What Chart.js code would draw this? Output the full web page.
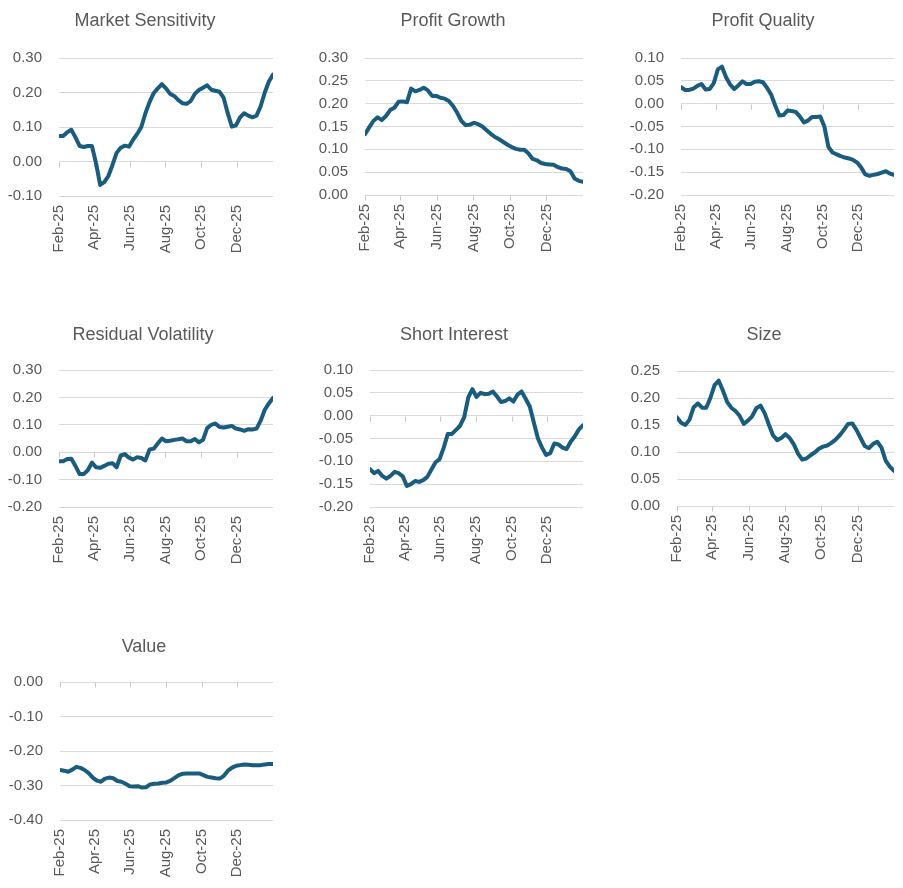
<!DOCTYPE html>
<html>
<head>
<meta charset="utf-8">
<script src="https://cdn.jsdelivr.net/npm/chart.js@4.4.1/dist/chart.umd.min.js"></script>
<style>
  html, body { margin: 0; padding: 0; background: #fff; width: 903px; height: 888px; overflow: hidden; }
  .cell { position: absolute; }
  .cell canvas { display: block; }
</style>
</head>
<body>
<div id="wrap"></div>
<script>
// x = days since 1 Feb 2025, weekly samples
var days = [0, 7, 14, 21, 28, 35, 42, 49, 56, 63, 70, 77, 84, 91, 98, 105, 112, 119, 126, 133,
  140, 147, 154, 161, 168, 175, 182, 189, 196, 203, 210, 217, 224, 231, 238, 245, 252, 259, 266,
  273, 280, 287, 294, 301, 308, 315, 322, 329, 336, 343, 350, 357, 364];

var tickDays = [0, 59, 120, 181, 242, 303];
var tickLabels = ['Feb-25', 'Apr-25', 'Jun-25', 'Aug-25', 'Oct-25', 'Dec-25'];

var marketSensitivity = [0.074, 0.074, 0.085, 0.092, 0.070, 0.045, 0.042, 0.045, 0.045, -0.005,
  -0.068, -0.060, -0.042, -0.010, 0.025, 0.040, 0.046, 0.043, 0.063, 0.080,
  0.100, 0.140, 0.172, 0.198, 0.212, 0.224, 0.212, 0.196, 0.190, 0.178,
  0.169, 0.167, 0.175, 0.196, 0.207, 0.214, 0.221, 0.208, 0.205, 0.202,
  0.185, 0.140, 0.101, 0.105, 0.128, 0.140, 0.133, 0.128, 0.133, 0.160,
  0.200, 0.232, 0.252];

var profitGrowth = [0.133, 0.148, 0.162, 0.170, 0.164, 0.173, 0.186, 0.191, 0.204, 0.205,
  0.203, 0.233, 0.227, 0.230, 0.235, 0.229, 0.217, 0.217, 0.213, 0.211,
  0.206, 0.195, 0.180, 0.162, 0.153, 0.154, 0.158, 0.155, 0.150, 0.142,
  0.134, 0.127, 0.122, 0.116, 0.110, 0.105, 0.101, 0.099, 0.099, 0.091,
  0.079, 0.076, 0.070, 0.068, 0.067, 0.066, 0.061, 0.058, 0.057, 0.052,
  0.036, 0.031, 0.029];

var profitQuality = [0.036, 0.030, 0.030, 0.033, 0.039, 0.043, 0.031, 0.032, 0.045, 0.075,
  0.081, 0.058, 0.042, 0.032, 0.040, 0.049, 0.043, 0.043, 0.048, 0.049,
  0.047, 0.035, 0.020, -0.004, -0.026, -0.025, -0.015, -0.016, -0.018, -0.028,
  -0.041, -0.037, -0.029, -0.029, -0.028, -0.050, -0.095, -0.107, -0.111, -0.115,
  -0.118, -0.120, -0.123, -0.129, -0.140, -0.155, -0.158, -0.156, -0.154, -0.151,
  -0.148, -0.153, -0.156];

var residualVolatility = [-0.033, -0.033, -0.025, -0.024, -0.050, -0.080, -0.080, -0.066, -0.038, -0.055,
  -0.057, -0.050, -0.042, -0.040, -0.055, -0.012, -0.007, -0.020, -0.027, -0.018,
  -0.021, -0.030, 0.010, 0.013, 0.032, 0.050, 0.040, 0.042, 0.045, 0.047,
  0.050, 0.040, 0.040, 0.048, 0.036, 0.045, 0.088, 0.100, 0.105, 0.092,
  0.090, 0.093, 0.096, 0.086, 0.083, 0.078, 0.084, 0.083, 0.086, 0.115,
  0.155, 0.178, 0.198];

var shortInterest = [-0.117, -0.126, -0.121, -0.132, -0.138, -0.132, -0.123, -0.126, -0.133, -0.154,
  -0.150, -0.143, -0.145, -0.141, -0.134, -0.118, -0.102, -0.095, -0.070, -0.040,
  -0.040, -0.031, -0.022, -0.003, 0.040, 0.058, 0.041, 0.050, 0.047, 0.048,
  0.053, 0.042, 0.030, 0.032, 0.038, 0.031, 0.046, 0.053, 0.037, 0.020,
  -0.015, -0.050, -0.070, -0.086, -0.082, -0.061, -0.063, -0.070, -0.073, -0.057,
  -0.045, -0.030, -0.021];

var size = [0.164, 0.154, 0.150, 0.160, 0.183, 0.190, 0.182, 0.182, 0.200, 0.224,
  0.232, 0.214, 0.193, 0.182, 0.176, 0.167, 0.152, 0.158, 0.166, 0.181,
  0.186, 0.172, 0.151, 0.131, 0.122, 0.126, 0.133, 0.126, 0.114, 0.097,
  0.086, 0.088, 0.094, 0.099, 0.106, 0.110, 0.112, 0.117, 0.123, 0.131,
  0.141, 0.152, 0.153, 0.141, 0.126, 0.111, 0.107, 0.115, 0.119, 0.108,
  0.084, 0.073, 0.065];

var value = [-0.255, -0.257, -0.260, -0.254, -0.246, -0.249, -0.255, -0.264, -0.277, -0.286,
  -0.289, -0.280, -0.277, -0.279, -0.287, -0.289, -0.295, -0.302, -0.303, -0.302,
  -0.306, -0.305, -0.297, -0.295, -0.294, -0.292, -0.291, -0.286, -0.278, -0.270,
  -0.266, -0.265, -0.265, -0.265, -0.265, -0.270, -0.275, -0.277, -0.279, -0.280,
  -0.272, -0.257, -0.248, -0.243, -0.241, -0.239, -0.240, -0.241, -0.241, -0.241,
  -0.239, -0.238, -0.238];

// panel placement: cell = [left, top, width, height], plot = [left, top, right, bottom] in cell px
var panels = [
  { title: 'Market Sensitivity', values: marketSensitivity, min: -0.1, max: 0.3, step: 0.1,
    cell: [0, 0, 300, 300], plot: [59, 58, 273, 196], titleAt: [145, 26] },
  { title: 'Profit Growth', values: profitGrowth, min: 0, max: 0.3, step: 0.05,
    cell: [300, 0, 300, 300], plot: [65, 58, 283, 195], titleAt: [153, 26] },
  { title: 'Profit Quality', values: profitQuality, min: -0.2, max: 0.1, step: 0.05,
    cell: [600, 0, 303, 300], plot: [81, 58, 294, 195], titleAt: [163, 26] },
  { title: 'Residual Volatility', values: residualVolatility, min: -0.2, max: 0.3, step: 0.1,
    cell: [0, 310, 300, 300], plot: [59, 60, 273, 197], titleAt: [143, 29.5] },
  { title: 'Short Interest', values: shortInterest, min: -0.2, max: 0.1, step: 0.05,
    cell: [300, 310, 300, 300], plot: [70, 60, 283, 197], titleAt: [154, 29.5] },
  { title: 'Size', values: size, min: 0, max: 0.25, step: 0.05,
    cell: [600, 310, 303, 300], plot: [77, 61, 294, 196], titleAt: [164, 29.5] },
  { title: 'Value', values: value, min: -0.4, max: 0, step: 0.1,
    cell: [0, 620, 300, 268], plot: [60, 62, 273, 200], titleAt: [144, 31.5] }
];

var FONT = '"Liberation Sans", Arial, sans-serif';
var TEXT = '#595959';
var GRID = '#d9d9d9';
var LINE = '#195c7d';

// panel title at a fixed spot (baseline)
var panelTitle = {
  id: 'panelTitle',
  afterDraw: function (chart, args, opts) {
    var ctx = chart.ctx;
    ctx.save();
    ctx.fillStyle = TEXT;
    ctx.font = '18px ' + FONT;
    ctx.textAlign = 'center';
    ctx.textBaseline = 'alphabetic';
    ctx.fillText(opts.text, opts.x, opts.y);
    ctx.restore();
  }
};

// Excel style: horizontal axis crosses at zero, small tick marks hang below it
var zeroTicks = {
  id: 'zeroTicks',
  beforeDatasetsDraw: function (chart) {
    var xs = chart.scales.x, ys = chart.scales.y, ctx = chart.ctx;
    var y0 = Math.round(ys.getPixelForValue(0)) + 0.5;
    ctx.save();
    ctx.strokeStyle = '#c8c8c8';
    ctx.lineWidth = 1;
    ctx.beginPath();
    tickDays.forEach(function (d) {
      var px = Math.round(xs.getPixelForValue(d)) + 0.5;
      ctx.moveTo(px, y0);
      ctx.lineTo(px, y0 + 5);
    });
    ctx.stroke();
    ctx.restore();
  }
};

function fmt(v) {
  if (Math.abs(v) < 1e-9) return '0.00';
  return v.toFixed(2);
}

var wrap = document.getElementById('wrap');

panels.forEach(function (p) {
  var div = document.createElement('div');
  div.className = 'cell';
  div.style.left = p.cell[0] + 'px';
  div.style.top = p.cell[1] + 'px';
  div.style.width = p.cell[2] + 'px';
  div.style.height = p.cell[3] + 'px';
  var cv = document.createElement('canvas');
  cv.width = p.cell[2];
  cv.height = p.cell[3];
  cv.style.width = p.cell[2] + 'px';
  cv.style.height = p.cell[3] + 'px';
  div.appendChild(cv);
  wrap.appendChild(div);

  var W = p.cell[2], H = p.cell[3];
  var pts = days.map(function (d, i) { return { x: d, y: p.values[i] }; });

  new Chart(cv.getContext('2d'), {
    type: 'line',
    data: {
      datasets: [{
        label: p.title, data: pts,
        borderColor: LINE, borderWidth: 4, pointRadius: 0, tension: 0,
        borderJoinStyle: 'round', borderCapStyle: 'round', fill: false
      }]
    },
    options: {
      responsive: false, animation: false,
      layout: { padding: { left: 0, top: p.plot[1], right: W - p.plot[2], bottom: 0 } },
      plugins: {
        legend: { display: false },
        tooltip: { enabled: false },
        panelTitle: { text: p.title, x: p.titleAt[0], y: p.titleAt[1] }
      },
      scales: {
        x: {
          type: 'linear', min: 0, max: 364,
          grid: { display: false, drawTicks: false },
          border: { display: false },
          afterBuildTicks: function (s) { s.ticks = tickDays.map(function (v) { return { value: v }; }); },
          afterFit: function (s) { s.height = H - p.plot[3]; },
          ticks: {
            autoSkip: false, minRotation: 90, maxRotation: 90, padding: 9,
            color: TEXT, font: { family: FONT, size: 15 },
            callback: function (v) { var i = tickDays.indexOf(v); return i < 0 ? '' : tickLabels[i]; }
          }
        },
        y: {
          min: p.min, max: p.max,
          grid: { color: GRID, lineWidth: 1, drawTicks: false },
          border: { display: false },
          afterFit: function (s) { s.width = p.plot[0]; },
          ticks: {
            stepSize: p.step, padding: 17,
            color: TEXT, font: { family: FONT, size: 15 },
            callback: function (v) { return fmt(v); }
          }
        }
      }
    },
    plugins: [panelTitle, zeroTicks]
  });
});
</script>
</body>
</html>
